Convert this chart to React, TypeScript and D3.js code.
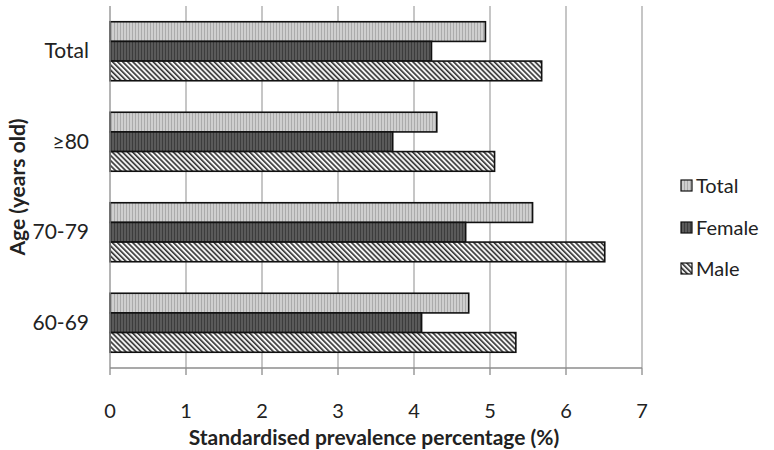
import React from "react";
import * as d3 from "d3";

const categories = ["Total", "≥80", "70-79", "60-69"];
const seriesNames = ["Total", "Female", "Male"];
const totalValues = [4.94, 4.3, 5.56, 4.72];
const femaleValues = [4.23, 3.72, 4.68, 4.1];
const maleValues = [5.68, 5.06, 6.51, 5.34];
const xTicks = [0, 1, 2, 3, 4, 5, 6, 7];

const W = 774;
const H = 450;
const left = 110;
const right = 642;
const top = 6;
const bottom = 368;
const FONT = "Lato, 'Open Sans', sans-serif";

export default function App() {
  const x = d3.scaleLinear().domain([0, 7]).range([left, right]);
  const y0 = d3.scaleBand<string>().domain(categories).range([top, bottom]).paddingInner(0.348).paddingOuter(0.174);
  const y1 = d3.scaleBand<string>().domain(seriesNames).range([0, y0.bandwidth()]);
  const valuesBySeries = [totalValues, femaleValues, maleValues];
  const fills = ["url(#pTotal)", "url(#pFemale)", "url(#pMale)"];

  return (
    <svg width={W} height={H} style={{ position: "absolute", left: 0, top: 0, background: "#fff" }} fontFamily={FONT}>
      <defs>
        <pattern id="pTotal" patternUnits="userSpaceOnUse" width={3} height={4}>
          <rect width={3} height={4} fill="#cfcfcf" />
          <rect x={0} width={1} height={4} fill="#ababab" />
        </pattern>
        <pattern id="pFemale" patternUnits="userSpaceOnUse" width={3} height={4}>
          <rect width={3} height={4} fill="#5a5a5a" />
          <rect x={0} width={1} height={4} fill="#3c3c3c" />
        </pattern>
        <pattern id="pMale" patternUnits="userSpaceOnUse" width={3.6} height={4} patternTransform="rotate(-45)">
          <rect width={3.6} height={4} fill="#f4f4f4" />
          <rect x={0} width={1.6} height={4} fill="#333" />
        </pattern>
      </defs>
      {/* gridlines */}
      {xTicks.filter((t) => t > 0).map((t) => (
        <line key={"g" + t} x1={x(t)} x2={x(t)} y1={top} y2={bottom} stroke="#a8a8a8" strokeWidth={1.3} />
      ))}
      {/* bars */}
      {categories.map((c, ci) => (
        <g key={c} transform={`translate(0,${y0(c)})`}>
          {seriesNames.map((s, si) => (
            <rect
              key={s}
              x={x(0)}
              y={y1(s)!}
              width={x(valuesBySeries[si][ci]) - x(0)}
              height={y1.bandwidth()}
              fill={fills[si]}
              stroke="#111"
              strokeWidth={1.6}
            />
          ))}
        </g>
      ))}
      {/* axes */}
      <line x1={left} x2={left} y1={top} y2={bottom} stroke="#8c8c8c" strokeWidth={1.3} />
      <line x1={left} x2={right} y1={bottom} y2={bottom} stroke="#8c8c8c" strokeWidth={1.3} />
      {xTicks.map((t) => (
        <g key={"t" + t}>
          <line x1={x(t)} x2={x(t)} y1={bottom} y2={bottom + 7} stroke="#8c8c8c" strokeWidth={1.3} />
          <text x={x(t)} y={418} textAnchor="middle" fontSize={20} fill="#222">
            {t}
          </text>
        </g>
      ))}
      {categories.map((c) => (
        <text key={"l" + c} x={89} y={y0(c)! + y0.bandwidth() / 2 + 7} textAnchor="end" fontSize={21} fill="#222">
          {c}
        </text>
      ))}
      <text x={374} y={445} textAnchor="middle" fontSize={21} fontWeight="bold" fill="#222">
        Standardised prevalence percentage (%)
      </text>
      <text transform="translate(25,187) rotate(-90)" textAnchor="middle" fontSize={21} fontWeight="bold" fill="#222">
        Age (years old)
      </text>
      {/* legend */}
      {seriesNames.map((s, i) => {
        const cy = [186, 228, 269][i];
        return (
          <g key={"lg" + s}>
            <rect x={681} y={cy - 6} width={11} height={11} fill={fills[i]} stroke="#111" strokeWidth={1.2} />
            <text x={696} y={cy + 7} fontSize={20} fill="#222">
              {s}
            </text>
          </g>
        );
      })}
    </svg>
  );
}
